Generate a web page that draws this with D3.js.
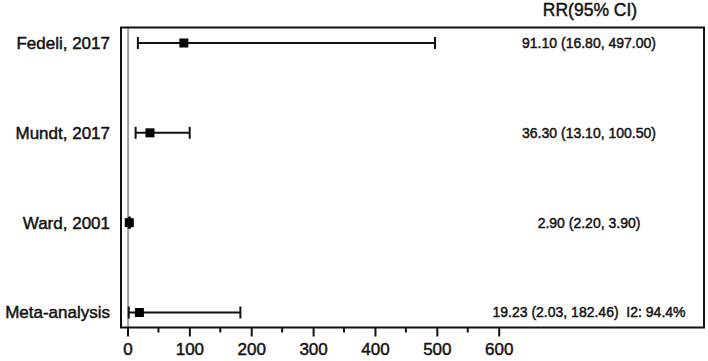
<!DOCTYPE html>
<html>
<head>
<meta charset="utf-8">
<script src="https://cdn.jsdelivr.net/npm/d3@7"></script>
<style>
  body { margin: 0; background: #fff; }
  svg { font-family: "Liberation Sans", Arial, Helvetica, sans-serif; }
  text { stroke: #111; stroke-width: 0.45px; }
</style>
</head>
<body>
<svg id="chart" width="708" height="361"></svg>
<script>
// --- data ---
const studies = ["Fedeli, 2017", "Mundt, 2017", "Ward, 2001", "Meta-analysis"];
const rr = [91.10, 36.30, 2.90, 19.23];
const lower = [16.80, 13.10, 2.20, 2.03];
const upper = [497.00, 100.50, 3.90, 182.46];
const rrLabels = ["91.10 (16.80, 497.00)", "36.30 (13.10, 100.50)", "2.90 (2.20, 3.90)", "19.23 (2.03, 182.46)  I2: 94.4%"];
const tickValues = [0, 100, 200, 300, 400, 500, 600];
const minorTicks = [50, 150, 250, 350, 450, 550];

const svg = d3.select("#chart");

// plot box
const box = { left: 121, top: 27.5, right: 704, bottom: 327.5 };

// x: value -> px (0 at 127.5, 600 at 498.7)
const x = d3.scaleLinear().domain([0, 600]).range([127.5, 498.7]);
const y = d3.scalePoint().domain(studies).range([43, 312.5]);

const rows = studies.map((s, i) => ({ s, rr: rr[i], lo: lower[i], hi: upper[i], label: rrLabels[i] }));

// null line at RR = 1
svg.append("line")
    .attr("x1", x(1)).attr("x2", x(1))
    .attr("y1", box.top).attr("y2", box.bottom)
    .attr("stroke", "#a0a0a0").attr("stroke-width", 2);

// frame
svg.append("rect")
    .attr("x", box.left).attr("y", box.top)
    .attr("width", box.right - box.left).attr("height", box.bottom - box.top)
    .attr("fill", "none").attr("stroke", "#111").attr("stroke-width", 2);

// axis
const axis = svg.append("g").attr("transform", `translate(0,${box.bottom})`)
    .call(d3.axisBottom(x).tickValues(tickValues).tickSize(9).tickPadding(6).tickFormat(d3.format("d")));
axis.select(".domain").remove();
axis.selectAll(".tick line").attr("stroke", "#111").attr("stroke-width", 2);
axis.selectAll(".tick text").attr("font-size", 17).attr("fill", "#111").attr("font-family", null);

svg.append("g").selectAll("line")
    .data(minorTicks)
    .join("line")
    .attr("x1", d => x(d)).attr("x2", d => x(d))
    .attr("y1", box.bottom).attr("y2", box.bottom + 5)
    .attr("stroke", "#111").attr("stroke-width", 2);

// whiskers
const g = svg.append("g");
g.selectAll(".ci")
    .data(rows)
    .join("line")
    .attr("x1", d => x(d.lo)).attr("x2", d => x(d.hi))
    .attr("y1", d => y(d.s)).attr("y2", d => y(d.s))
    .attr("stroke", "#111").attr("stroke-width", 2);

["lo", "hi"].forEach(k => {
    g.selectAll(".cap-" + k)
        .data(rows)
        .join("line")
        .attr("x1", d => x(d[k])).attr("x2", d => x(d[k]))
        .attr("y1", d => y(d.s) - 6).attr("y2", d => y(d.s) + 6)
        .attr("stroke", "#111").attr("stroke-width", 2);
});

// point estimates
g.selectAll(".pt")
    .data(rows)
    .join("rect")
    .attr("x", d => x(d.rr) - 4.5).attr("y", d => y(d.s) - 4.5)
    .attr("width", 9).attr("height", 9)
    .attr("fill", "#000");

// study labels
svg.append("g").selectAll("text")
    .data(rows)
    .join("text")
    .attr("x", 110).attr("y", d => y(d.s))
    .attr("dy", "0.35em")
    .attr("text-anchor", "end")
    .attr("font-size", 17)
    .attr("fill", "#111")
    .text(d => d.s);

// RR (95% CI) column
svg.append("text")
    .attr("x", 590).attr("y", 10)
    .attr("dy", "0.35em")
    .attr("text-anchor", "middle")
    .attr("font-size", 17.5)
    .attr("fill", "#111")
    .text("RR(95% CI)");

svg.append("g").selectAll("text")
    .data(rows)
    .join("text")
    .attr("x", 589).attr("y", d => y(d.s))
    .attr("dy", "0.35em")
    .attr("text-anchor", "middle")
    .attr("font-size", 14)
    .attr("fill", "#111")
    .attr("xml:space", "preserve")
    .style("white-space", "pre")
    .text(d => d.label);
</script>
</body>
</html>
